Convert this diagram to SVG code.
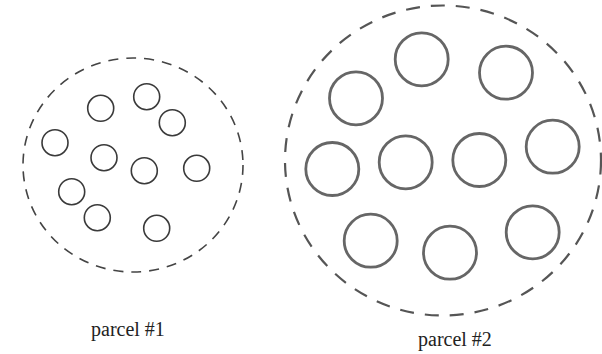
<svg xmlns="http://www.w3.org/2000/svg" width="602" height="354" viewBox="0 0 602 354">
<style>
.p1 { fill: none; stroke: #444; stroke-width: 1.6; stroke-dasharray: 10 8; }
.p2 { fill: none; stroke: #555; stroke-width: 2.2; stroke-dasharray: 14 11; }
.s { fill: none; stroke: #3a3a3a; stroke-width: 1.6; }
.b { fill: none; stroke: #666; stroke-width: 2.8; }
.lbl { font-family: "Liberation Serif", "Times New Roman", serif; font-size: 20px; fill: #222; }
</style>
<rect width="602" height="354" fill="#fff"/>
<g id="parcel1">
  <ellipse class="p1" cx="133" cy="165" rx="110" ry="107"/>
  <circle class="s" cx="100.7" cy="108.3" r="13"/>
  <circle class="s" cx="146.7" cy="96.7" r="13"/>
  <circle class="s" cx="172.3" cy="122.7" r="13"/>
  <circle class="s" cx="55" cy="142.7" r="13"/>
  <circle class="s" cx="104" cy="157.7" r="13"/>
  <circle class="s" cx="144.3" cy="170.7" r="13"/>
  <circle class="s" cx="196.7" cy="168.3" r="13"/>
  <circle class="s" cx="71.7" cy="191.7" r="13"/>
  <circle class="s" cx="97.3" cy="217.7" r="13"/>
  <circle class="s" cx="156.7" cy="228.3" r="13"/>
</g>
<g id="parcel2">
  <ellipse class="p2" cx="443" cy="160.5" rx="158" ry="155"/>
  <circle class="b" cx="421.7" cy="59.3" r="26.5"/>
  <circle class="b" cx="506" cy="72.7" r="26.5"/>
  <circle class="b" cx="356" cy="98.3" r="26.5"/>
  <circle class="b" cx="332.3" cy="169" r="26.5"/>
  <circle class="b" cx="405.7" cy="162.3" r="26.5"/>
  <circle class="b" cx="479.3" cy="160" r="26.5"/>
  <circle class="b" cx="552.7" cy="146.7" r="26.5"/>
  <circle class="b" cx="370.7" cy="240.7" r="26.5"/>
  <circle class="b" cx="450" cy="252.7" r="26.5"/>
  <circle class="b" cx="532.7" cy="232.3" r="26.5"/>
</g>
<g id="labels">
  <text class="lbl" x="91" y="336">parcel #1</text>
  <text class="lbl" x="418" y="346">parcel #2</text>
</g>
</svg>
